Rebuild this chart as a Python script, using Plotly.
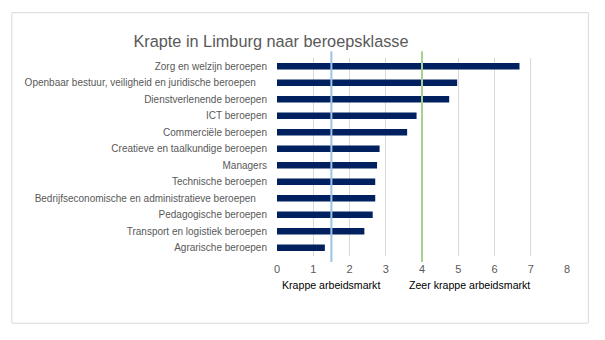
import plotly.graph_objects as go

categories = [
    "Zorg en welzijn beroepen",
    "Openbaar bestuur, veiligheid en juridische beroepen",
    "Dienstverlenende beroepen",
    "ICT beroepen",
    "Commerciële beroepen",
    "Creatieve en taalkundige beroepen",
    "Managers",
    "Technische beroepen",
    "Bedrijfseconomische en administratieve beroepen",
    "Pedagogische beroepen",
    "Transport en logistiek beroepen",
    "Agrarische beroepen",
]
values = [6.69, 4.97, 4.75, 3.85, 3.59, 2.83, 2.76, 2.71, 2.71, 2.64, 2.41, 1.32]
thresholds = [1.5, 4.0]
threshold_labels = ["Krappe arbeidsmarkt", "Zeer krappe arbeidsmarkt"]
threshold_colors = ["#9dc3e6", "#a9d18e"]
x_ticks = [0, 1, 2, 3, 4, 5, 6, 7, 8]

FONT = "Liberation Sans, Arial, sans-serif"
W, H = 605, 340
ml, mr, mt, mb = 276.7, 37.7, 57.7, 84
ph = H - mt - mb

fig = go.Figure()
fig.add_trace(go.Bar(
    x=values, y=categories, orientation="h",
    marker=dict(color="#002060", line=dict(width=0)),
    width=0.4, hoverinfo="x+y",
))

def py(pix):
    return (H - mb - pix) / ph

shapes = [dict(type="rect", xref="paper", yref="paper",
               x0=(11 - ml) / (W - ml - mr), x1=(588.7 - ml) / (W - ml - mr),
               y0=py(323.3), y1=py(12.3),
               line=dict(color="#d9d9d9", width=1), fillcolor="rgba(0,0,0,0)", layer="below")]
for t, c in zip(thresholds, threshold_colors):
    shapes.append(dict(type="line", xref="x", yref="paper", x0=t, x1=t,
                       y0=py(262), y1=py(51), line=dict(color=c, width=2)))

annotations = []
label_x = [1.5, 5.3]
for lx, lab in zip(label_x, threshold_labels):
    annotations.append(dict(x=lx, xref="x", y=py(285), yref="paper", text=lab,
                            showarrow=False, xanchor="center", yanchor="middle",
                            font=dict(family=FONT, size=10.6, color="#000000")))

# long labels sit slightly further from the axis in the reference
tick_text = [c + "\u00a0" * 4 if len(c) > 40 else c for c in categories]

fig.update_layout(
    width=W, height=H,
    margin=dict(l=ml, r=mr, t=mt, b=mb, pad=0),
    paper_bgcolor="white", plot_bgcolor="white",
    showlegend=False,
    title=dict(text="Krapte in Limburg naar beroepsklasse", x=271 / W, xanchor="center",
               y=1 - 41 / H, yanchor="middle",
               font=dict(family=FONT, size=16.3, color="#595959")),
    xaxis=dict(range=[0, 8], tickvals=x_ticks, showgrid=True, gridcolor="#d9d9d9",
               gridwidth=1, zeroline=False, showline=False, ticks="", ticklabelstandoff=5,
               tickfont=dict(family=FONT, size=11, color="#595959")),
    yaxis=dict(autorange=False, range=[len(categories) - 0.5, -0.5], showgrid=False,
               zeroline=False, showline=False, ticks="", ticklabelstandoff=9,
               tickmode="array", tickvals=categories, ticktext=tick_text,
               tickfont=dict(family=FONT, size=10, color="#595959")),
    shapes=shapes, annotations=annotations,
    font=dict(family=FONT),
)
fig.write_html("out.html")
